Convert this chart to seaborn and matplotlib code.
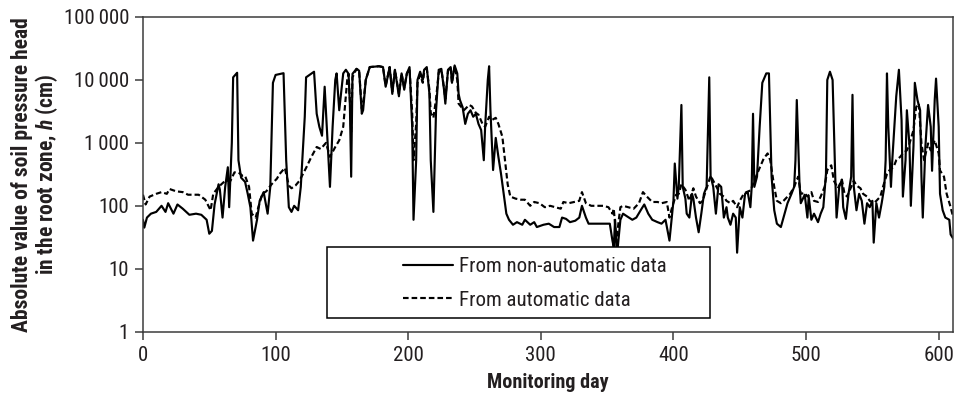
import numpy as np
import pandas as pd
import matplotlib
matplotlib.use("Agg")
import matplotlib.pyplot as plt
from matplotlib import font_manager as fm
from matplotlib.patches import Rectangle
from matplotlib.ticker import FixedLocator, FixedFormatter
import seaborn as sns

# ---------------- data ----------------
series_labels = ["From non-automatic data", "From automatic data"]

manual_day = [0, 1, 3, 6, 10, 14, 17, 19, 23, 26, 30, 35, 40, 44, 48, 50, 52, 54, 57, 58,
              60, 62, 64, 65, 67, 68, 71, 72, 74, 77, 79, 81, 83, 86, 88, 91, 94, 96, 98, 100,
              106, 108, 110, 112, 114, 115, 117, 119, 122, 123, 129, 131, 133, 135, 137, 139, 141, 143, 145, 146,
              148, 151, 153, 155, 156, 157, 158, 161, 163, 165, 166, 168, 171, 178, 181, 183, 186, 188, 190, 193,
              195, 197, 199, 201, 203, 204, 206, 207, 209, 211, 212, 214, 216, 217, 219, 221, 223, 225, 227, 228,
              230, 232, 233, 235, 237, 238, 239, 241, 243, 245, 247, 249, 251, 253, 255, 257, 258, 260, 261, 262,
              264, 266, 268, 270, 272, 274, 276, 279, 282, 286, 288, 292, 295, 297, 302, 306, 310, 314, 316, 319,
              322, 326, 329, 331, 334, 336, 340, 344, 349, 352, 354, 355, 356, 357, 358, 360, 362, 365, 369, 372,
              376, 378, 381, 384, 388, 391, 394, 397, 399, 400, 401, 403, 404, 406, 407, 409, 410, 412, 414, 415,
              417, 419, 421, 423, 425, 427, 428, 430, 432, 434, 436, 438, 440, 441, 443, 445, 447, 448, 450, 452,
              454, 456, 458, 459, 460, 461, 463, 465, 467, 470, 472, 474, 476, 478, 481, 483, 486, 489, 491, 492,
              493, 495, 496, 499, 501, 502, 504, 506, 509, 511, 513, 515, 516, 518, 520, 522, 523, 525, 527, 528,
              530, 532, 534, 535, 536, 538, 540, 542, 544, 546, 548, 550, 551, 553, 555, 557, 559, 560, 561, 562,
              564, 565, 567, 568, 570, 572, 573, 575, 576, 578, 579, 581, 582, 584, 586, 587, 588, 590, 592, 594,
              595, 597, 598, 600, 601, 603, 605, 608, 609, 611]
manual_h = [60, 45, 65, 75, 80, 100, 80, 110, 75, 105, 90, 72, 75, 72, 60, 36, 40, 105, 220, 180,
            65, 200, 410, 95, 1000, 11000, 13000, 530, 280, 240, 155, 95, 28, 60, 120, 165, 75, 200, 9000, 12000,
            12800, 530, 95, 80, 100, 95, 85, 200, 2600, 11000, 13500, 2900, 1800, 1300, 7800, 1250, 200, 1800, 10000, 12700,
            3300, 12700, 14500, 12500, 4200, 290, 12500, 15000, 14000, 2900, 3300, 10000, 16000, 16500, 16000, 7800, 16000, 6000, 14500, 5500,
            12700, 7000, 12700, 16000, 1800, 60, 530, 10000, 13500, 10000, 14500, 16000, 6000, 530, 80, 3300, 14500, 15000, 7000, 4200,
            14500, 16000, 9000, 17000, 12700, 6000, 4800, 3700, 2000, 2900, 3300, 2600, 2900, 2000, 1600, 530, 1800, 10000, 16500, 3300,
            370, 1200, 600, 320, 155, 75, 60, 50, 55, 50, 60, 50, 55, 46, 50, 52, 46, 46, 65, 62,
            55, 58, 65, 100, 65, 52, 52, 52, 52, 52, 28, 22, 60, 22, 22, 60, 75, 68, 60, 65,
            90, 105, 75, 60, 55, 52, 60, 28, 75, 120, 470, 130, 200, 4000, 200, 130, 75, 65, 155, 130,
            65, 38, 75, 155, 200, 11000, 300, 200, 75, 220, 200, 65, 95, 65, 50, 75, 65, 18, 95, 65,
            155, 165, 95, 200, 2900, 200, 290, 1800, 9000, 12700, 12700, 290, 85, 52, 46, 65, 110, 155, 200, 530,
            4800, 240, 110, 150, 65, 140, 60, 75, 55, 75, 95, 320, 10000, 13500, 10000, 290, 65, 200, 260, 95,
            62, 155, 290, 5800, 200, 85, 155, 120, 52, 110, 95, 120, 26, 110, 65, 110, 200, 530, 12700, 1800,
            200, 530, 2600, 5500, 14500, 2300, 140, 530, 3300, 900, 100, 900, 9000, 4800, 3300, 290, 65, 900, 4000, 1800,
            360, 4800, 10500, 1800, 155, 85, 65, 60, 35, 30]

auto_day = [0, 2, 5, 10, 14, 18, 20, 25, 30, 34, 38, 42, 47, 51, 53, 57, 62, 66, 69, 72,
            75, 77, 80, 82, 85, 87, 90, 93, 97, 101, 103, 107, 110, 112, 115, 118, 123, 127, 131, 134,
            138, 141, 145, 148, 151, 154, 155, 156, 157, 158, 161, 163, 165, 166, 168, 171, 178, 181, 183, 186,
            188, 190, 193, 195, 197, 199, 201, 203, 204, 206, 207, 209, 211, 212, 214, 216, 217, 219, 221, 223,
            225, 227, 228, 230, 232, 233, 235, 237, 238, 242, 246, 248, 251, 253, 256, 258, 261, 263, 266, 268,
            271, 273, 275, 277, 281, 285, 288, 292, 295, 299, 303, 307, 311, 315, 317, 321, 325, 329, 331, 334,
            338, 343, 347, 351, 354, 355, 357, 359, 360, 362, 366, 370, 374, 377, 380, 384, 388, 391, 395, 397,
            399, 402, 404, 406, 409, 412, 415, 417, 420, 422, 425, 428, 430, 433, 435, 438, 440, 443, 445, 448,
            450, 453, 455, 458, 460, 463, 465, 468, 471, 473, 476, 478, 481, 483, 486, 488, 491, 494, 496, 499,
            501, 504, 506, 509, 511, 514, 516, 519, 521, 524, 527, 529, 531, 534, 536, 538, 541, 543, 546, 548,
            551, 553, 556, 558, 561, 563, 566, 568, 571, 573, 576, 578, 581, 583, 585, 587, 589, 592, 594, 597,
            600, 601, 604, 606, 609, 611]
auto_h = [150, 105, 140, 155, 165, 155, 185, 170, 165, 150, 150, 150, 125, 85, 155, 200, 250, 250, 340, 340,
          300, 300, 200, 75, 65, 95, 155, 170, 220, 270, 320, 400, 210, 190, 210, 250, 400, 600, 860, 800,
          1000, 600, 860, 1100, 1800, 10000, 12500, 5000, 1500, 11000, 15000, 14000, 3500, 4000, 10000, 16000, 16500, 16000, 8000, 16000,
          6500, 14500, 6000, 12700, 7500, 12700, 15000, 3000, 530, 2000, 9000, 12000, 9000, 13000, 15000, 7000, 3000, 2500, 5000, 13000,
          14500, 7500, 5000, 14000, 16000, 9000, 16500, 10000, 4200, 3300, 4000, 3800, 3000, 2800, 2000, 1800, 2600, 2300, 2500, 2000,
          1250, 530, 220, 140, 130, 125, 125, 100, 115, 110, 95, 100, 95, 90, 115, 110, 115, 120, 165, 110,
          100, 100, 100, 95, 75, 90, 28, 65, 95, 100, 95, 90, 110, 165, 140, 115, 115, 110, 115, 65,
          95, 150, 155, 220, 180, 120, 190, 140, 110, 120, 190, 300, 250, 190, 155, 140, 120, 110, 120, 95,
          120, 155, 165, 175, 220, 320, 400, 560, 680, 530, 200, 120, 110, 120, 140, 155, 200, 290, 155, 160,
          140, 165, 120, 115, 140, 200, 370, 440, 250, 190, 260, 155, 140, 200, 250, 210, 190, 155, 140, 120,
          110, 120, 140, 200, 320, 370, 415, 530, 600, 680, 760, 980, 1600, 3700, 4200, 980, 530, 980, 760, 1100,
          680, 365, 290, 155, 95, 65]

y_ticks = [1, 10, 100, 1000, 10000, 100000]
y_tick_labels = ["1", "10", "100", "1\u2009000", "10\u2009000", "100\u2009000"]
x_ticks = [0, 100, 200, 300, 400, 500, 600]

# ---------------- style ----------------
sns.set_theme(style="ticks")
names = {f.name for f in fm.fontManager.ttflist}
FONT = "DejaVu Sans"
for cand in ["Liberation Sans Narrow", "Roboto Condensed", "Liberation Sans", "Roboto"]:
    if cand in names:
        FONT = cand
        break
plt.rcParams["font.family"] = [FONT, "DejaVu Sans"]
plt.rcParams["mathtext.fontset"] = "custom"
plt.rcParams["mathtext.it"] = f"{FONT}:italic:bold"
plt.rcParams["mathtext.rm"] = f"{FONT}:bold"

df = pd.concat([
    pd.DataFrame({"day": manual_day, "h": manual_h, "series": series_labels[0]}),
    pd.DataFrame({"day": auto_day, "h": auto_h, "series": series_labels[1]}),
], ignore_index=True)

fig = plt.figure(figsize=(9.55, 3.96), dpi=100)
ax = fig.add_axes([0.1497, 0.1624, 0.8485, 0.7947])

sns.lineplot(data=df, x="day", y="h", style="series", style_order=series_labels,
             dashes={series_labels[0]: "", series_labels[1]: (2.6, 1.4)},
             color="black", linewidth=1.55, estimator=None, sort=True,
             legend=False, ax=ax)

ax.set_yscale("log")
ax.set_ylim(1, 100000)
ax.set_xlim(0, 611)
ax.yaxis.set_major_locator(FixedLocator(y_ticks))
ax.yaxis.set_major_formatter(FixedFormatter(y_tick_labels))
ax.yaxis.set_minor_locator(FixedLocator([]))
ax.set_xticks(x_ticks)
ax.set_xticklabels([str(v) for v in x_ticks])

spine_col = "#3c3c3c"
for s in ax.spines.values():
    s.set_visible(True)
    s.set_color(spine_col)
    s.set_linewidth(1.1)
ax.tick_params(axis="both", which="major", direction="out", length=6, width=1.1,
               color=spine_col, labelsize=15, labelcolor="#231f20", pad=4)
ax.tick_params(axis="y", left=True, right=False)
ax.tick_params(axis="x", bottom=True, top=False)

ax.set_xlabel("Monitoring day", fontsize=14.5, fontweight="bold", color="#231f20")
ax.set_ylabel("Absolute value of soil pressure head\nin the root zone, $h$ (cm)",
              fontsize=15.5, fontweight="bold", color="#231f20", linespacing=1.0)
ax.xaxis.set_label_coords(0.5, -0.13)
ax.yaxis.set_label_coords(-0.103, 0.5)

# legend box and entries
ax.add_patch(Rectangle((0.227, 0.0435), 0.473, 0.2255, transform=ax.transAxes,
                       fill=True, facecolor="white", edgecolor="black", linewidth=1.1, zorder=4))
handles = ax.get_lines()[:2]
leg = ax.legend(handles, series_labels, loc="center left", bbox_to_anchor=(0.321, 0.154),
                frameon=False, fontsize=15, handlelength=2.4, handletextpad=0.3,
                labelspacing=0.7, borderpad=0, borderaxespad=0)
leg.set_zorder(5)
for t in leg.get_texts():
    t.set_color("#231f20")

fig.savefig("out.png", dpi=100, facecolor="white")
